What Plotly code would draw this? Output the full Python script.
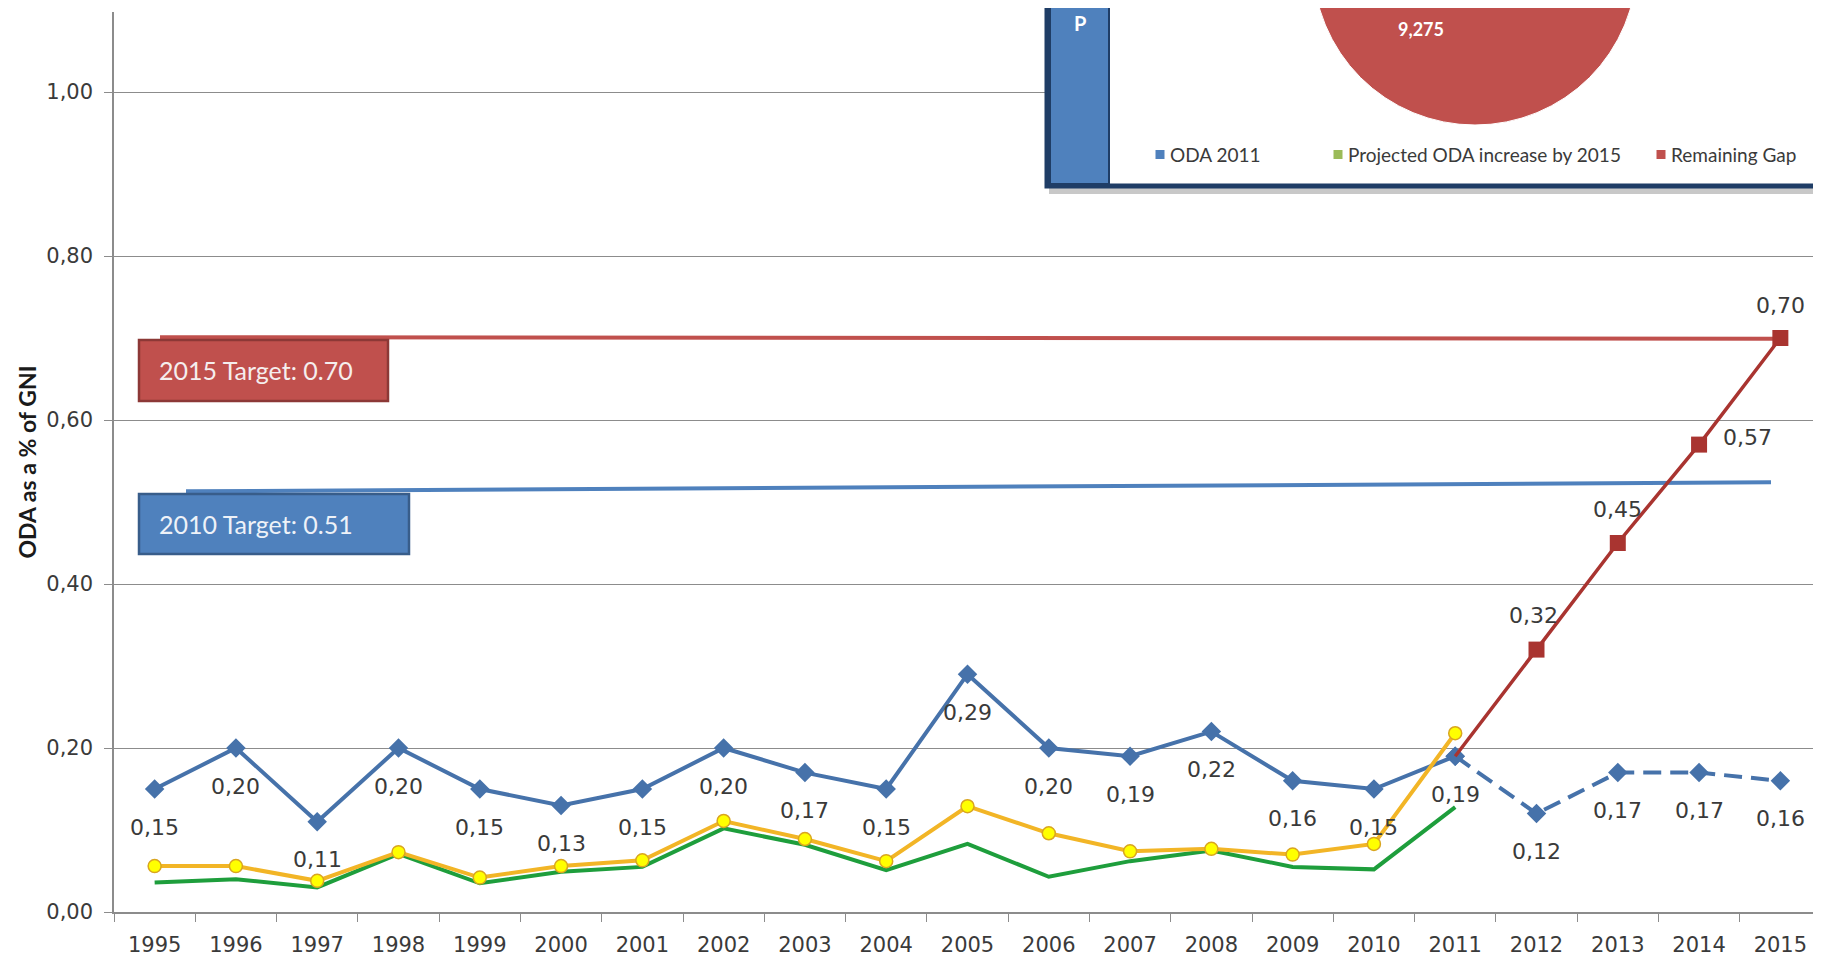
import plotly.graph_objects as go

# Years on the category axis
YEARS = [str(y) for y in range(1995, 2016)]
ACTUAL_YEARS = YEARS[:17]      # 1995-2011
PROJ_YEARS = YEARS[16:]        # 2011-2015

# ODA as % of GNI (actual)
ODA_GNI = [0.15, 0.20, 0.11, 0.20, 0.15, 0.13, 0.15, 0.20, 0.17, 0.15,
           0.29, 0.20, 0.19, 0.22, 0.16, 0.15, 0.19]
# projections 2011-2015
PROJ_CURRENT = [0.19, 0.12, 0.17, 0.17, 0.16]
PROJ_TARGET = [0.19, 0.32, 0.45, 0.57, 0.70]
# unlabelled series
YELLOW_SERIES = [0.056, 0.056, 0.038, 0.073, 0.042, 0.056, 0.063, 0.111, 0.089, 0.062,
                 0.129, 0.096, 0.074, 0.077, 0.070, 0.083, 0.218]
GREEN_SERIES = [0.036, 0.040, 0.030, 0.071, 0.035, 0.049, 0.055, 0.102, 0.082, 0.051,
                0.083, 0.043, 0.062, 0.075, 0.055, 0.052, 0.128]

# target lines (drawn levels) and their labels
TARGET_2015 = (0.701, 0.699)
TARGET_2010 = (0.513, 0.524)
TARGET_LABELS = ["2015 Target: 0.70", "2010 Target: 0.51"]

# inset pie
PIE_LABELS = ["ODA 2011", "Projected ODA increase by 2015", "Remaining Gap"]
PIE_COLORS = ["#4F81BD", "#9BBB59", "#C0504D"]
REMAINING_GAP = 9275

BLUE = "#4672AA"
RED = "#A93430"
GRID = "#8C8C8C"
TXT = "#3A3A3A"
NUM_FONT = "DejaVu Sans"

# page body has an 8px margin, so the figure is drawn 8px smaller
OFF = 8
W, H = 1821 - OFF, 958 - OFF
# plot area in reference pixels
L, R, T, B = 114, 1821, 12, 912


def px(x):
    return (x - L) / (R - L)


def py(y):
    return (B - y) / (B - T)


def fmt(v):
    return f"{v:.2f}".replace(".", ",")


fig = go.Figure()

fig.add_trace(go.Scatter(
    x=PROJ_YEARS, y=PROJ_CURRENT, mode="lines+markers",
    line=dict(color=BLUE, width=4, dash="18px,9px"),
    marker=dict(symbol="diamond", size=15, color=BLUE, line=dict(width=0)),
))
fig.add_trace(go.Scatter(
    x=ACTUAL_YEARS, y=ODA_GNI, mode="lines+markers",
    line=dict(color=BLUE, width=4),
    marker=dict(symbol="diamond", size=15, color=BLUE, line=dict(width=0)),
))
fig.add_trace(go.Scatter(
    x=PROJ_YEARS, y=PROJ_TARGET, mode="lines+markers",
    line=dict(color=RED, width=3.5),
    marker=dict(symbol="square", size=[0] + [16] * (len(PROJ_TARGET) - 1), color=RED,
                line=dict(width=0), opacity=1),
))
fig.add_trace(go.Scatter(
    x=ACTUAL_YEARS, y=GREEN_SERIES, mode="lines",
    line=dict(color="#1E9E3C", width=4),
))
fig.add_trace(go.Scatter(
    x=ACTUAL_YEARS, y=YELLOW_SERIES, mode="lines+markers",
    line=dict(color="#F2B526", width=4),
    marker=dict(symbol="circle", size=13, color="#FFFF00",
                line=dict(color="#D9A520", width=1.5)),
))

annotations = []
label_font = dict(family=NUM_FONT, size=22, color=TXT)
# data labels, blue below the point
for yr, v in list(zip(ACTUAL_YEARS, ODA_GNI)) + list(zip(PROJ_YEARS[1:], PROJ_CURRENT[1:])):
    annotations.append(dict(x=YEARS.index(yr), y=v, xref="x", yref="y", text=fmt(v),
                            showarrow=False, xanchor="center", yanchor="middle",
                            yshift=-38, font=label_font))
# red labels
red_shift = {"2012": (-3, 34), "2013": (0, 34), "2014": (48, 7), "2015": (0, 33)}
for yr, v in zip(PROJ_YEARS[1:], PROJ_TARGET[1:]):
    dx, dy = red_shift[yr]
    annotations.append(dict(x=YEARS.index(yr), y=v, xref="x", yref="y", text=fmt(v),
                            showarrow=False, xanchor="center", yanchor="middle",
                            xshift=dx, yshift=dy, font=label_font))

shapes = [
    # target lines
    dict(type="line", xref="paper", yref="y", x0=px(160), x1=px(1783),
         y0=TARGET_2015[0], y1=TARGET_2015[1], line=dict(color="#C0504D", width=4), layer="between"),
    dict(type="line", xref="paper", yref="y", x0=px(186), x1=px(1771),
         y0=TARGET_2010[0], y1=TARGET_2010[1], line=dict(color="#4F81BD", width=4), layer="between"),
    # target boxes
    dict(type="rect", xref="paper", yref="paper", x0=px(139), x1=px(388), y0=py(401), y1=py(340),
         fillcolor="#C0504D", line=dict(color="#8C3836", width=2.5)),
    dict(type="rect", xref="paper", yref="paper", x0=px(139), x1=px(409), y0=py(554), y1=py(494),
         fillcolor="#4F81BD", line=dict(color="#385D8A", width=2.5)),
    # inset panel
    dict(type="rect", xref="paper", yref="paper", x0=px(1049), x1=px(1850), y0=py(194), y1=py(-30),
         fillcolor="#C8C8C8", line=dict(width=0)),
    dict(type="rect", xref="paper", yref="paper", x0=px(1047), x1=px(1850), y0=py(186), y1=py(-30),
         fillcolor="white", line=dict(color="#1F3D66", width=5)),
    dict(type="rect", xref="paper", yref="paper", x0=px(1050), x1=px(1109), y0=py(184), y1=py(-30),
         fillcolor="#4F81BD", line=dict(color="#1F3D66", width=2)),
    dict(type="circle", xref="paper", yref="paper", x0=px(1313), x1=px(1637), y0=py(125), y1=py(-199),
         fillcolor=PIE_COLORS[2], line=dict(color="white", width=1)),
]


def note(x, y, text, size, color, xanchor="center", bold=False):
    return dict(x=px(x), y=py(y), xref="paper", yref="paper", xanchor=xanchor, yanchor="middle",
                text=f"<b>{text}</b>" if bold else text, showarrow=False,
                font=dict(family="Lato", size=size, color=color))


annotations += [
    note(157, 370, TARGET_LABELS[0], 25, "#F5EEEE", "left"),
    note(157, 524, TARGET_LABELS[1], 25, "#EEF2F8", "left"),
    note(1080, 23, "P", 20, "white", bold=True),
    note(1421, 29, f"{REMAINING_GAP:,}", 18, "white", bold=True),
]

# inset legend
for lab, col, sx in zip(PIE_LABELS, PIE_COLORS, [1160, 1338, 1661]):
    shapes.append(dict(type="rect", xref="paper", yref="paper", x0=px(sx - 4.5), x1=px(sx + 4.5),
                       y0=py(159), y1=py(150), fillcolor=col, line=dict(width=0)))
    annotations.append(note(sx + 8, 155, lab, 19, TXT, "left"))

fig.update_layout(
    width=W, height=H,
    margin=dict(l=L - OFF, r=1821 - R, t=T - OFF, b=958 - B),
    plot_bgcolor="white", paper_bgcolor="white",
    showlegend=False,
    separators=", ",
    shapes=shapes,
    annotations=annotations,
    xaxis=dict(
        type="category", categoryorder="array", categoryarray=YEARS,
        range=[-0.5, len(YEARS) - 0.5],
        tickson="boundaries", ticks="outside", ticklen=8, tickcolor=GRID,
        showline=True, linecolor=GRID, linewidth=1.5, showgrid=False,
        ticklabelstandoff=13,
        tickfont=dict(family=NUM_FONT, size=21, color=TXT),
    ),
    yaxis=dict(
        range=[0, (B - T) / 820], tickvals=[0, 0.2, 0.4, 0.6, 0.8, 1.0], tickformat=".2f",
        ticks="outside", ticklen=8, tickcolor=GRID,
        showline=True, linecolor=GRID, linewidth=1.5,
        showgrid=True, gridcolor=GRID, gridwidth=1, zeroline=False,
        ticklabelstandoff=7,
        tickfont=dict(family=NUM_FONT, size=21, color=TXT),
        title=dict(text="<b>ODA as a % of GNI</b>", standoff=3,
                   font=dict(family="Lato", size=23, color="#1A1A1A")),
    ),
)

fig.write_html("out.html")
